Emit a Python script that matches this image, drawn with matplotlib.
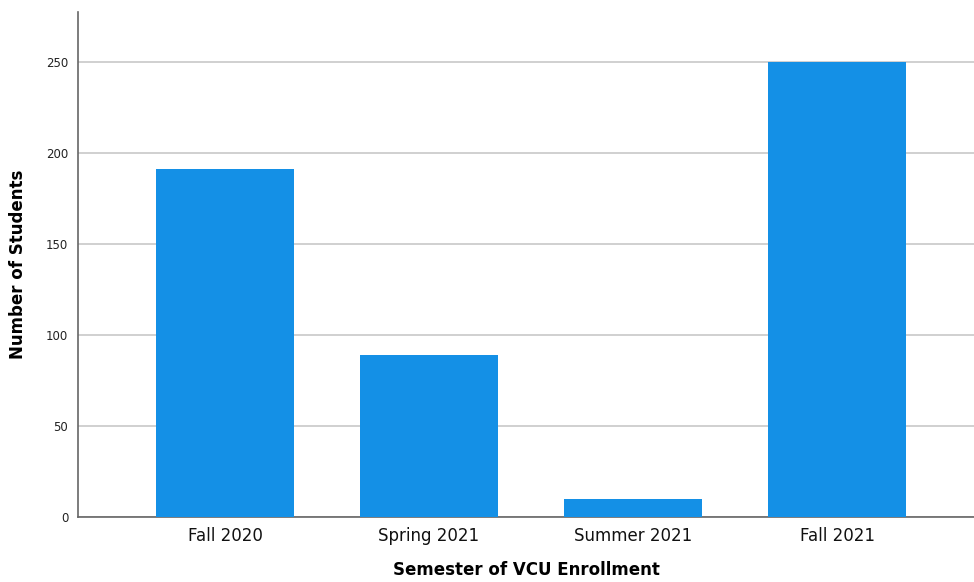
import matplotlib
matplotlib.use("Agg")
import matplotlib.pyplot as plt

categories = ["Fall 2020", "Spring 2021", "Summer 2021", "Fall 2021"]
students = [191, 89, 10, 250]
yticks = [0, 50, 100, 150, 200, 250]

plt.rcParams['font.family'] = ['DejaVu Sans']

fig = plt.figure(figsize=(9.74, 5.82), dpi=100)
ax = fig.add_axes([78/974, (582-517)/582, (974-78)/974, (517-12)/582])

x = list(range(len(categories)))
ax.bar(x, students, width=0.676, color="#1490E6", zorder=3)

ax.set_xlim(-0.72, 3.67)
ax.set_ylim(0, 277.5)
ax.set_yticks(yticks)
ax.set_yticklabels([str(t) for t in yticks], fontsize=8.5, color="#222222")
ax.set_xticks(x)
ax.set_xticklabels(categories, fontsize=12, color="#111111")
ax.tick_params(axis='both', length=0)
ax.tick_params(axis='y', pad=7)
ax.tick_params(axis='x', pad=7)

ax.grid(axis='y', color="#c8c8c8", linewidth=1.2, zorder=0)
for s in ["top", "right"]:
    ax.spines[s].set_visible(False)
for s in ["left", "bottom"]:
    ax.spines[s].set_color("#666666")
    ax.spines[s].set_linewidth(1.2)

ax.set_xlabel("Semester of VCU Enrollment", fontsize=12, fontweight="bold", labelpad=12)
ax.set_ylabel("Number of Students", fontsize=12, fontweight="bold", labelpad=14)

fig.savefig("out.png", dpi=100)
